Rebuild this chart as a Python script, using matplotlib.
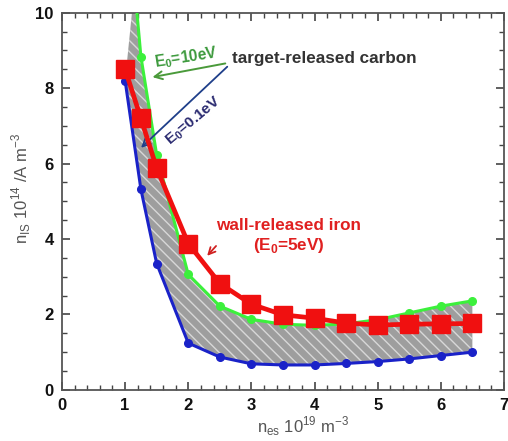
import matplotlib
matplotlib.use("Agg")
import matplotlib.pyplot as plt
from matplotlib.ticker import MultipleLocator

plt.rcParams['font.family'] = ['Liberation Sans', 'DejaVu Sans']
plt.rcParams['hatch.color'] = '#d8d8d8'
plt.rcParams['hatch.linewidth'] = 1.0

# data
x_common = [1.0, 1.25, 1.5, 2.0, 2.5, 3.0, 3.5, 4.0, 4.5, 5.0, 5.5, 6.0, 6.5]
x_green = [1.15, 1.25, 1.5, 2.0, 2.5, 3.0, 3.5, 4.0, 4.5, 5.0, 5.5, 6.0, 6.5]
carbon_10eV = [10.7, 8.84, 6.23, 3.06, 2.22, 1.87, 1.74, 1.71, 1.75, 1.86, 2.04, 2.22, 2.36]
carbon_01eV = [8.2, 5.32, 3.35, 1.24, 0.87, 0.69, 0.66, 0.66, 0.70, 0.75, 0.82, 0.91, 1.0]
iron_5eV = [8.5, 7.2, 5.88, 3.88, 2.82, 2.27, 1.99, 1.9, 1.77, 1.72, 1.74, 1.75, 1.76]

fig = plt.figure(figsize=(5.08, 4.41), dpi=100)
ax = fig.add_axes([0.122, 0.116, 0.870, 0.855])

# hatched band between the two carbon curves
poly_x = x_green + x_common[::-1]
poly_y = carbon_10eV + carbon_01eV[::-1]
ax.fill(poly_x, poly_y, facecolor='#9e9e9e', edgecolor='#d8d8d8', hatch='\\\\\\', lw=0, zorder=1)

ax.plot(x_green, carbon_10eV, color='#3cf03c', lw=2.2, marker='o', ms=5.5, zorder=3)
ax.plot(x_common, carbon_01eV, color='#1a22c8', lw=2.2, marker='o', ms=5.5, zorder=3)
ax.plot(x_common, iron_5eV, color='#f01010', lw=3.4, marker='s', ms=13, zorder=4)

ax.set_xlim(0, 7)
ax.set_ylim(0, 10)
ax.xaxis.set_major_locator(MultipleLocator(1))
ax.xaxis.set_minor_locator(MultipleLocator(0.2))
ax.yaxis.set_major_locator(MultipleLocator(2))
ax.yaxis.set_minor_locator(MultipleLocator(0.5))
ax.tick_params(which='both', direction='in', top=True, right=True, colors='#444444')
ax.tick_params(which='major', length=6, width=1.2, labelsize=12, labelcolor='#111111', pad=6)
ax.tick_params(which='minor', length=3.5, width=1.0)
for lab in ax.get_xticklabels() + ax.get_yticklabels():
    lab.set_fontweight('bold')
for s in ax.spines.values():
    s.set_color('#555555')
    s.set_linewidth(1.3)

ax.set_xlabel(r'n$_{\mathregular{es}}$ 10$^{\mathregular{19}}$ m$^{\mathregular{-3}}$', fontsize=12, color='#555555')
ax.set_ylabel(r'n$_{\mathregular{IS}}$ 10$^{\mathregular{14}}$ /A m$^{\mathregular{-3}}$', fontsize=12, color='#555555')
ax.xaxis.set_label_coords(0.545, -0.066)
ax.yaxis.set_label_coords(-0.066, 0.535)

# annotations
ax.text(2.69, 8.78, 'target-released carbon', fontsize=12.3, fontweight='bold', color='#333333', va='center', ha='left')
ax.annotate('', xy=(1.39, 8.28), xytext=(2.63, 8.67),
            arrowprops=dict(arrowstyle='->', color='#4a9a3a', lw=1.4, mutation_scale=14))
ax.text(1.97, 8.8, r'E$_\mathregular{0}$=10eV', fontsize=11.2, fontweight='bold', color='#3d9a3d',
        ha='center', va='center', rotation=9)
ax.annotate('', xy=(1.22, 6.37), xytext=(2.65, 8.62),
            arrowprops=dict(arrowstyle='->', color='#1f3f8a', lw=1.3, mutation_scale=14))
ax.text(2.08, 7.14, r'E$_\mathregular{0}$=0.1eV', fontsize=11, fontweight='bold', color='#2a2a70',
        ha='center', va='center', rotation=40)
ax.text(3.59, 4.06, 'wall-released iron\n' + r'(E$_\mathregular{0}$=5eV)', fontsize=12.3, fontweight='bold',
        color='#e02020', ha='center', va='center', linespacing=1.2)
ax.annotate('', xy=(2.27, 3.5), xytext=(2.47, 3.87),
            arrowprops=dict(arrowstyle='->', color='#d02020', lw=1.3, mutation_scale=12))

fig.savefig('out.png', dpi=100)
